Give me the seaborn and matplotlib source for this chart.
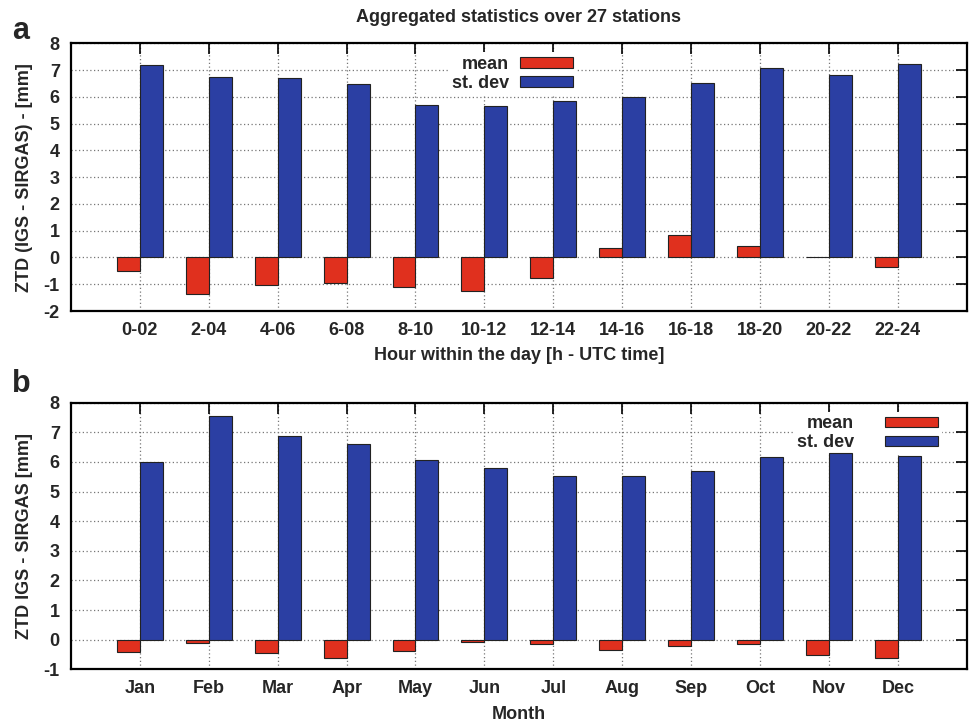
import numpy as np
import pandas as pd
import matplotlib
matplotlib.use("Agg")
import matplotlib.pyplot as plt
import seaborn as sns

hours = ["0-02", "2-04", "4-06", "6-08", "8-10", "10-12",
         "12-14", "14-16", "16-18", "18-20", "20-22", "22-24"]
hour_mean = [-0.52, -1.37, -1.01, -0.96, -1.12, -1.25, -0.75, 0.36, 0.85, 0.44, 0.02, -0.34]
hour_std = [7.18, 6.74, 6.71, 6.47, 5.68, 5.66, 5.83, 6.00, 6.52, 7.06, 6.80, 7.22]

months = ["Jan", "Feb", "Mar", "Apr", "May", "Jun",
          "Jul", "Aug", "Sep", "Oct", "Nov", "Dec"]
month_mean = [-0.40, -0.12, -0.44, -0.62, -0.39, -0.08, -0.15, -0.36, -0.20, -0.16, -0.53, -0.61]
month_std = [6.00, 7.55, 6.88, 6.61, 6.06, 5.78, 5.53, 5.53, 5.71, 6.18, 6.29, 6.19]

series_names = ["mean", "st. dev"]
colors = {"mean": "#e0301e", "st. dev": "#2b3fa3"}

sns.set_theme(style="white")
plt.rcParams['font.family'] = ['Liberation Sans', 'DejaVu Sans']
plt.rcParams['font.weight'] = 'bold'

FS = 13

def long_df(cats, mean, std):
    return pd.DataFrame({
        "cat": list(cats) * 2,
        "value": list(mean) + list(std),
        "series": [series_names[0]] * len(cats) + [series_names[1]] * len(cats),
    })

def draw(ax, cats, mean, std, ylim, yticks, xlabel, ylabel, leg_anchor, textpad):
    df = long_df(cats, mean, std)
    sns.barplot(data=df, x="cat", y="value", hue="series", order=cats,
                hue_order=series_names, palette=colors, width=2/3, gap=0,
                edgecolor="#222222", linewidth=0.8, saturation=1, ax=ax,
                errorbar=None, zorder=3)
    ax.set_xlim(-1, len(cats))
    ax.set_ylim(*ylim)
    ax.set_yticks(yticks)
    ax.set_yticklabels([str(v) for v in yticks], fontsize=FS, fontweight='bold')
    ax.set_xticks(range(len(cats)))
    ax.set_xticklabels(cats, fontsize=FS, fontweight='bold')
    ax.grid(True, linestyle=(0, (1, 2)), color="#777777", linewidth=0.9, zorder=0)
    ax.set_axisbelow(True)
    ax.tick_params(direction='in', length=8, width=1.2, top=True, right=True,
                   labeltop=False, labelright=False, color='black', pad=8)
    for s in ax.spines.values():
        s.set_linewidth(1.6)
        s.set_color('black')
    ax.set_xlabel(xlabel, fontsize=FS, fontweight='bold', labelpad=6)
    ax.set_ylabel(ylabel, fontsize=FS, fontweight='bold', labelpad=8)
    handles, labels = ax.get_legend_handles_labels()
    leg = ax.legend(handles, labels, loc='upper right', bbox_to_anchor=leg_anchor,
                    markerfirst=False, frameon=True, framealpha=1, facecolor='white',
                    edgecolor='none', fontsize=FS, handlelength=2.95, handleheight=0.5,
                    labelspacing=0.1, handletextpad=textpad, borderpad=0.2, fancybox=False)
    for t in leg.get_texts():
        t.set_fontweight('bold')
    leg.set_zorder(2.5)

fig = plt.figure(figsize=(9.71, 7.27), dpi=100)
ax1 = fig.add_axes([0.0731, 0.5722, 0.9225, 0.3682])
ax2 = fig.add_axes([0.0731, 0.0794, 0.9225, 0.3667])

draw(ax1, hours, hour_mean, hour_std, (-2, 8), list(range(-2, 9)),
     "Hour within the day [h - UTC time]", "ZTD (IGS - SIRGAS) - [mm]", (0.575, 1.0), 0.6)
draw(ax2, months, month_mean, month_std, (-1, 8), list(range(-1, 9)),
     "Month", "ZTD IGS - SIRGAS [mm]", (0.982, 1.0), 1.7)

ax1.set_title("Aggregated statistics over 27 stations", fontsize=FS, fontweight='bold', pad=15)
fig.text(0.012, 0.957, "a", fontsize=22, fontweight='bold', va='center')
fig.text(0.012, 0.472, "b", fontsize=22, fontweight='bold', va='center')

fig.savefig("out.png", dpi=100)
